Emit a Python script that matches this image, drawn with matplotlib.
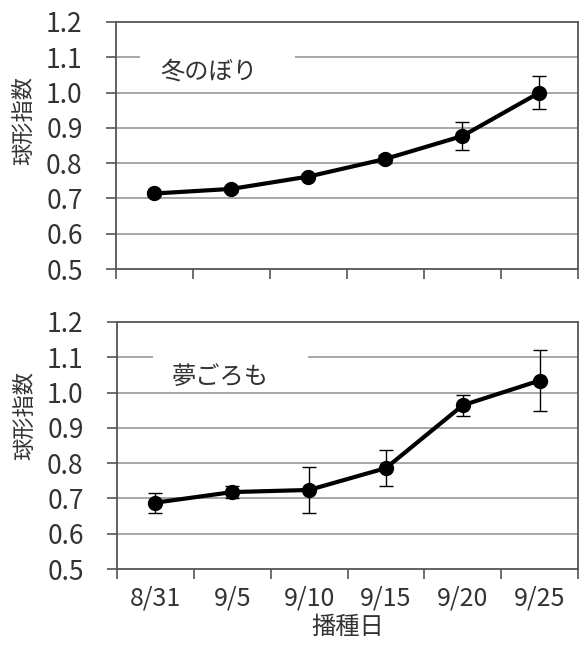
import matplotlib
matplotlib.use("Agg")
import matplotlib.pyplot as plt
from matplotlib.patches import Rectangle
import numpy as np

plt.rcParams['font.family'] = ['Noto Sans CJK JP', 'DejaVu Sans']

dates = ["8/31", "9/5", "9/10", "9/15", "9/20", "9/25"]

fuyu_mean = [0.714, 0.727, 0.762, 0.812, 0.877, 1.000]
fuyu_err = [0.006, 0.008, 0.008, 0.012, 0.040, 0.046]

yume_mean = [0.688, 0.718, 0.724, 0.786, 0.964, 1.034]
yume_err = [0.028, 0.017, 0.064, 0.052, 0.030, 0.087]

variety_names = ["冬のぼり", "夢ごろも"]
y_ticks = [0.5, 0.6, 0.7, 0.8, 0.9, 1.0, 1.1, 1.2]

fig = plt.figure(figsize=(5.87, 6.5), dpi=100)
W, H = 587, 650
ax_top = fig.add_axes([116 / W, 1 - 269 / H, (578 - 116) / W, (269 - 22) / H])
ax_bot = fig.add_axes([117 / W, 1 - 569 / H, (578 - 117) / W, (569 - 322) / H])

text_color = "#333333"
grid_color = "#a0a0a0"
spine_color = "#555555"

x = np.arange(len(dates))

# (axes, means, errors, name, label x, label y, white panel x-span, ylabel y, show x labels)
panels = [
    (ax_top, fuyu_mean, fuyu_err, variety_names[0], 0.07, 1.06, (-0.19, 1.82), 0.60, False),
    (ax_bot, yume_mean, yume_err, variety_names[1], 0.21, 1.045, (-0.03, 1.98), 0.62, True),
]

for ax, mean, err, name, tx, ty, gap, ylab_y, show_x in panels:
    ax.set_xlim(-0.5, len(dates) - 0.5)
    ax.set_ylim(0.5, 1.2)
    ax.set_yticks(y_ticks)
    ax.set_yticklabels([f"{v:.1f}" for v in y_ticks], fontsize=19, color=text_color)
    for v in y_ticks[1:-1]:
        ax.axhline(v, color=grid_color, lw=1.3, zorder=1)
    for s in ax.spines.values():
        s.set_color(spine_color)
        s.set_linewidth(1.3)
    ax.tick_params(axis="y", direction="out", length=7, width=1.2, color=spine_color, pad=17)
    # category boundaries carry the tick marks
    ax.set_xticks(np.arange(-0.5, len(dates), 1.0), minor=True)
    ax.tick_params(axis="x", which="minor", direction="out", length=7, width=1.2, color=spine_color)
    ax.set_xticks(x)
    ax.tick_params(axis="x", which="major", length=0, pad=12)
    if show_x:
        ax.set_xticklabels(dates, fontsize=18, color=text_color)
    else:
        ax.set_xticklabels([])

    ax.errorbar(x, mean, yerr=err, color="black", lw=3, marker="o", ms=10,
                ecolor="black", elinewidth=1.0, capsize=5, capthick=1.0, zorder=3)

    # white panel behind the variety name, interrupting the 1.1 gridline
    ax.add_patch(Rectangle((gap[0], 1.075), gap[1] - gap[0], 0.05,
                           facecolor="white", edgecolor="none", zorder=2))
    ax.text(tx, ty, name, fontsize=17.5, color=text_color, ha="left", va="center", zorder=2.5)

    ax.set_ylabel("球形指数", fontsize=16, color=text_color)
    ax.yaxis.set_label_coords(-0.175, ylab_y)

ax_bot.set_xlabel("播種日", fontsize=17.5, color=text_color, labelpad=2)

fig.savefig("out.png", dpi=100)
